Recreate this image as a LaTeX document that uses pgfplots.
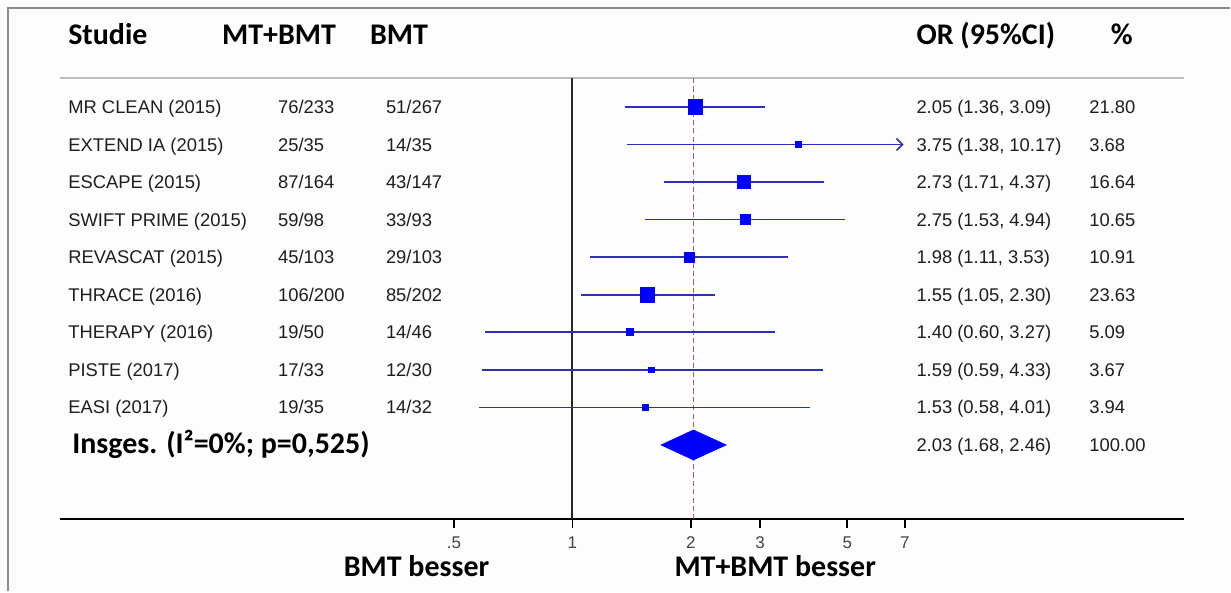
\documentclass[border=0pt]{standalone}
\usepackage{fontspec}
\setmainfont{Liberation Sans}
\newfontfamily\hdfont{Carlito}
\usepackage{pgfplots}
\pgfplotsset{compat=1.18}
\usepackage{pgfplotstable}
\usetikzlibrary{arrows.meta}

\definecolor{ciblue}{HTML}{2E2EB8}
\definecolor{sqblue}{HTML}{0000FF}
\definecolor{refred}{HTML}{B55A5A}
\definecolor{framegray}{HTML}{8C8C8C}
\definecolor{sepgray}{HTML}{BDBDBD}
\definecolor{rowblack}{HTML}{1E1E1E}
\definecolor{ticktxt}{HTML}{444444}
\definecolor{bg}{HTML}{FDFDFD}

% y = vertical position of the row, or = odds ratio, lo/hi = 95% CI, w = weight (%)
\pgfplotstableread{
y or lo hi w
485.0 2.05 1.36 3.09 21.80
447.4 3.75 1.38 10.17 3.68
409.8 2.73 1.71 4.37 16.64
372.2 2.75 1.53 4.94 10.65
334.6 1.98 1.11 3.53 10.91
297.0 1.55 1.05 2.30 23.63
259.4 1.40 0.60 3.27 5.09
221.8 1.59 0.59 4.33 3.67
184.2 1.53 0.58 4.01 3.94
}\studies

\tikzset{
  rowtxt/.style={font=\fontsize{9.2}{11}\selectfont, text=rowblack, inner sep=0pt},
  hdr/.style={font=\hdfont\bfseries\fontsize{15}{18}\selectfont, text=black, inner sep=0pt},
  ticklab/.style={font=\fontsize{8.5}{10}\selectfont, text=ticktxt, inner sep=0pt},
}
\newcommand\txt[4][rowtxt]{\node[#1, anchor=base west] at (rel axis cs:{#2/1231},{#3/592}) {#4};}
\newcommand\ctxt[4][hdr]{\node[#1, anchor=base] at (rel axis cs:{#2/1231},{#3/592}) {#4};}

\begin{document}
\begin{tikzpicture}
\begin{axis}[
  scale only axis, width=615.5pt, height=296pt,
  xmode=log, xmin=0.03505, xmax=46.9, ymin=0, ymax=592,
  axis lines=none, clip=false,
]
% background
\fill[bg] (rel axis cs:0,0) rectangle (rel axis cs:1,1);
% frame (top and left)
\draw[framegray, line width=1.2pt] (rel axis cs:{8/1231},0) -- (rel axis cs:{8/1231},{584/592}) -- (rel axis cs:1,{584/592});
% separator under header
\draw[sepgray, line width=1pt] (rel axis cs:{60/1231},{514/592}) -- (rel axis cs:{1185/1231},{514/592});
% bottom axis line
\draw[black, line width=1pt] (rel axis cs:{60/1231},{72/592}) -- (rel axis cs:{1185/1231},{72/592});

% null line and overall estimate line
\addplot[black!85, line width=1pt] coordinates {(1,72) (1,514)};
\addplot[refred, line width=0.9pt, dash pattern=on 2.6pt off 1.6pt] coordinates {(2.03,72) (2.03,514)};

% tick marks
\pgfplotsinvokeforeach{0.5,1,2,3,5,7}{
  \addplot[black, line width=0.9pt] coordinates {(#1,72) (#1,63)};
}
\node[ticklab, anchor=base] at (axis cs:0.5,43) {.5};
\node[ticklab, anchor=base] at (axis cs:1,43) {1};
\node[ticklab, anchor=base] at (axis cs:2,43) {2};
\node[ticklab, anchor=base] at (axis cs:3,43) {3};
\node[ticklab, anchor=base] at (axis cs:5,43) {5};
\node[ticklab, anchor=base] at (axis cs:7,43) {7};

% confidence intervals
\addplot[ciblue, line width=0.8pt] coordinates {(1.36,485.0) (3.09,485.0)};
\addplot[ciblue, line width=0.8pt, -{Straight Barb[length=3pt,width=6pt]}] coordinates {(1.38,447.4) (6.95,447.4)};
\addplot[ciblue, line width=0.8pt] coordinates {(1.71,409.8) (4.37,409.8)};
\addplot[ciblue, line width=0.8pt] coordinates {(1.53,372.2) (4.94,372.2)};
\addplot[ciblue, line width=0.8pt] coordinates {(1.11,334.6) (3.53,334.6)};
\addplot[ciblue, line width=0.8pt] coordinates {(1.05,297.0) (2.30,297.0)};
\addplot[ciblue, line width=0.8pt] coordinates {(0.60,259.4) (3.27,259.4)};
\addplot[ciblue, line width=0.8pt] coordinates {(0.59,221.8) (4.33,221.8)};
\addplot[ciblue, line width=0.8pt] coordinates {(0.58,184.2) (4.01,184.2)};

% weighted squares
\addplot[scatter, only marks, mark=square*,
  scatter/use mapped color={draw=sqblue, fill=sqblue},
  visualization depends on={0.76*sqrt(\thisrow{w}) \as \msz},
  scatter/@pre marker code/.append style={/tikz/mark size=\msz, /tikz/line width=0.1pt},
] table[x=or, y=y] {\studies};

% pooled estimate diamond
\addplot[fill=sqblue, draw=sqblue, line width=0.3pt] coordinates {(1.68,146.6) (2.03,161.6) (2.46,146.6) (2.03,131.6)} -- cycle;

% header
\txt[hdr]{68}{547}{Studie}
\txt[hdr]{222}{547}{MT+BMT}
\txt[hdr]{370}{547}{BMT}
\txt[hdr]{917}{547}{OR (95\%CI)}
\ctxt{1123}{547}{\%}

% rows
\txt{68}{478.4}{MR CLEAN (2015)}     \txt{278}{478.4}{76/233}  \txt{386}{478.4}{51/267}  \txt{917}{478.4}{2.05 (1.36, 3.09)}  \txt{1090}{478.4}{21.80}
\txt{68}{440.8}{EXTEND IA (2015)}    \txt{278}{440.8}{25/35}   \txt{386}{440.8}{14/35}   \txt{917}{440.8}{3.75 (1.38, 10.17)} \txt{1090}{440.8}{3.68}
\txt{68}{403.2}{ESCAPE (2015)}       \txt{278}{403.2}{87/164}  \txt{386}{403.2}{43/147}  \txt{917}{403.2}{2.73 (1.71, 4.37)}  \txt{1090}{403.2}{16.64}
\txt{68}{365.6}{SWIFT PRIME (2015)}  \txt{278}{365.6}{59/98}   \txt{386}{365.6}{33/93}   \txt{917}{365.6}{2.75 (1.53, 4.94)}  \txt{1090}{365.6}{10.65}
\txt{68}{328.0}{REVASCAT (2015)}     \txt{278}{328.0}{45/103}  \txt{386}{328.0}{29/103}  \txt{917}{328.0}{1.98 (1.11, 3.53)}  \txt{1090}{328.0}{10.91}
\txt{68}{290.4}{THRACE (2016)}       \txt{278}{290.4}{106/200} \txt{386}{290.4}{85/202}  \txt{917}{290.4}{1.55 (1.05, 2.30)}  \txt{1090}{290.4}{23.63}
\txt{68}{252.8}{THERAPY (2016)}      \txt{278}{252.8}{19/50}   \txt{386}{252.8}{14/46}   \txt{917}{252.8}{1.40 (0.60, 3.27)}  \txt{1090}{252.8}{5.09}
\txt{68}{215.2}{PISTE (2017)}        \txt{278}{215.2}{17/33}   \txt{386}{215.2}{12/30}   \txt{917}{215.2}{1.59 (0.59, 4.33)}  \txt{1090}{215.2}{3.67}
\txt{68}{177.6}{EASI (2017)}         \txt{278}{177.6}{19/35}   \txt{386}{177.6}{14/32}   \txt{917}{177.6}{1.53 (0.58, 4.01)}  \txt{1090}{177.6}{3.94}

% overall
\txt[hdr]{72}{138}{Insges. (I²=0\%; p=0,525)}
\txt{917}{140.0}{2.03 (1.68, 2.46)} \txt{1090}{140.0}{100.00}

% bottom labels
\ctxt{417}{15}{BMT besser}
\ctxt{776}{15}{MT+BMT besser}
\end{axis}
\end{tikzpicture}
\end{document}
